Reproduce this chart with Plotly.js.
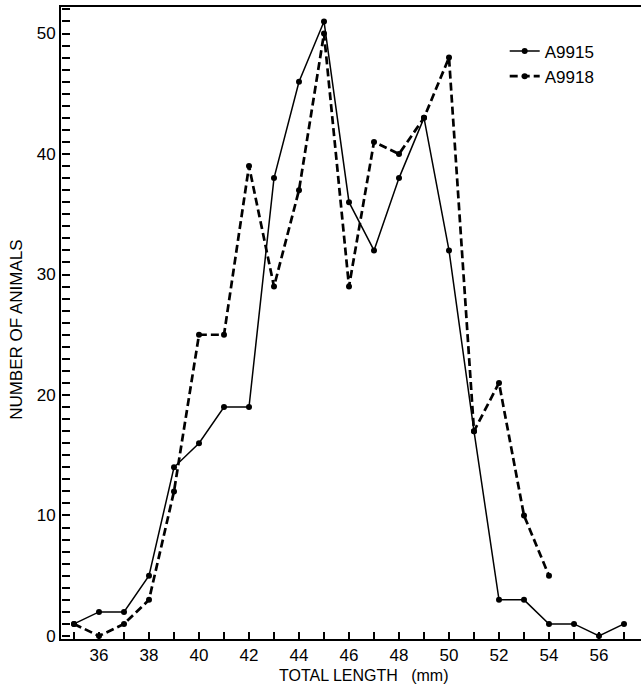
<!DOCTYPE html>
<html>
<head>
<meta charset="utf-8">
<script src="https://cdn.plot.ly/plotly-3.0.1.min.js"></script>
<style>html,body{margin:0;padding:0;background:#fff;}#chart{width:641px;height:690px;}</style>
</head>
<body>
<div id="chart"></div>
<script>
// Total length (mm)
const lengthA9915 = [35,36,37,38,39,40,41,42,43,44,45,46,47,48,49,50,51,52,53,54,55,56,57];
const countA9915  = [1, 2, 2, 5, 14,16,19,19,38,46,51,36,32,38,43,32,17,3, 3, 1, 1, 0, 1];
const lengthA9918 = [35,36,37,38,39,40,41,42,43,44,45,46,47,48,49,50,51,52,53,54];
const countA9918  = [1, 0, 1, 3, 12,25,25,39,29,37,50,29,41,40,43,48,17,21,10,5];
const seriesNames = ["A9915", "A9918"];
const xTitle = "TOTAL LENGTH&nbsp;&nbsp;&nbsp;(mm)";
const yTitle = "NUMBER OF ANIMALS";

const FONT = "Liberation Sans, Arial, sans-serif";
const XR = [34.48, 57.68];
const YR = [-0.25, 52.2];

const traces = [
  {
    x: lengthA9915, y: countA9915, name: seriesNames[0],
    type: "scatter", mode: "lines+markers",
    line: {color: "#000", width: 1.5},
    marker: {color: "#000", size: 6}
  },
  {
    x: lengthA9918, y: countA9918, name: seriesNames[1],
    xaxis: "x2", yaxis: "y2",
    type: "scatter", mode: "lines+markers",
    line: {color: "#000", width: 2.7, dash: "8px,4px"},
    marker: {color: "#000", size: 6}
  }
];

const layout = {
  width: 641, height: 690,
  margin: {l: 61, r: 0, t: 7, b: 51},
  paper_bgcolor: "#fff", plot_bgcolor: "#fff",
  font: {family: FONT, size: 17, color: "#000"},
  showlegend: true,
  legend: {
    x: 0.765, y: 0.958, xanchor: "left", yanchor: "top",
    bgcolor: "rgba(0,0,0,0)", borderwidth: 0,
    font: {family: FONT, size: 17, color: "#000"},
    tracegroupgap: 0
  },
  xaxis: {
    range: XR, fixedrange: true,
    tickmode: "linear", tick0: 36, dtick: 2, ticks: "",
    showline: true, linewidth: 2, linecolor: "#000", mirror: true,
    showgrid: false, zeroline: false,
    tickfont: {family: FONT, size: 17, color: "#000"}
  },
  yaxis: {
    range: YR, fixedrange: true,
    tickmode: "linear", tick0: 0, dtick: 10, ticks: "",
    showline: true, linewidth: 2, linecolor: "#000",
    showgrid: false, zeroline: false,
    tickfont: {family: FONT, size: 17, color: "#000"}
  },
  // tick-only axes sharing the same ranges, placed on the plot edges so their ticks point inward
  xaxis2: {
    range: XR, fixedrange: true, overlaying: "x", side: "top", anchor: "free", position: 0,
    tickmode: "linear", tick0: 35, dtick: 1,
    ticks: "outside", ticklen: 7, tickwidth: 1.6, tickcolor: "#000",
    showticklabels: false, showline: false, showgrid: false, zeroline: false
  },
  yaxis2: {
    range: YR, fixedrange: true, overlaying: "y", side: "right", anchor: "free", position: 0,
    tickmode: "linear", tick0: 0, dtick: 1,
    ticks: "outside", ticklen: 8, tickwidth: 1.6, tickcolor: "#000",
    showticklabels: false, showline: false, showgrid: false, zeroline: false
  },
  annotations: [
    {text: xTitle, xref: "paper", yref: "paper", x: 0.522, y: -0.057,
     xanchor: "center", yanchor: "middle", showarrow: false,
     font: {family: FONT, size: 16, color: "#000"}},
    {text: yTitle, xref: "paper", yref: "paper", x: -0.076, y: 0.489,
     xanchor: "center", yanchor: "middle", showarrow: false, textangle: -90,
     font: {family: FONT, size: 17, color: "#000"}}
  ]
};

Plotly.newPlot("chart", traces, layout, {displayModeBar: false});
</script>
</body>
</html>
